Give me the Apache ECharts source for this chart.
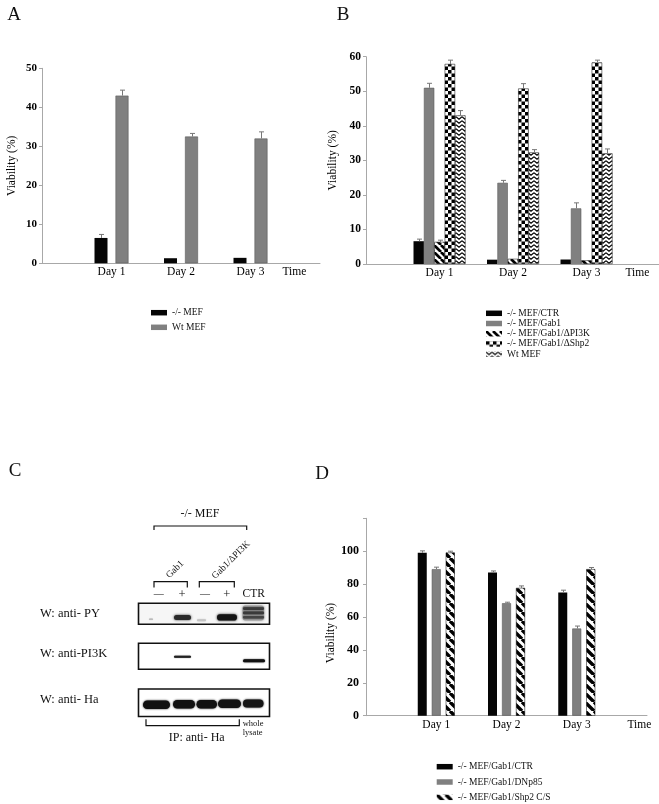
<!DOCTYPE html>
<html><head><meta charset="utf-8">
<script src="https://cdn.jsdelivr.net/npm/echarts@6/dist/echarts.min.js"></script>
<style>html,body{margin:0;padding:0;background:#fff}#c{width:659px;height:804px}</style>
</head><body><div id="c"></div>
<script>
// ---------- data ----------
const days = ['Day 1', 'Day 2', 'Day 3'];
const timeLabel = 'Time';
const yName = 'Viability (%)';

// Panel A
const aNames = ['-/- MEF', 'Wt MEF'];
const aKO = [6.5, 1.3, 1.4];
const aWT = [43.0, 32.5, 32.0];
const aKOErr = [7.4, null, null];
const aWTErr = [44.4, 33.3, 33.7];

// Panel B
const bNames = ['-/- MEF/CTR', '-/- MEF/Gab1', '-/- MEF/Gab1/ΔPI3K', '-/- MEF/Gab1/ΔShp2', 'Wt MEF '];
const bCTR = [6.6, 1.25, 1.3];
const bGab1 = [51.0, 23.5, 16.1];
const bDPI3K = [6.4, 1.5, 1.05];
const bDShp2 = [57.9, 50.8, 58.3];
const bWT = [43.0, 32.3, 32.0];
const bCTRErr = [7.2, null, null];
const bGab1Err = [52.3, 24.2, 17.7];
const bDPI3KErr = [6.9, null, null];
const bDShp2Err = [59.0, 52.2, 59.0];
const bWTErr = [44.4, 33.1, 33.3];

// Panel D
const dNames = ['-/- MEF/Gab1/CTR', '-/- MEF/Gab1/DNp85', '-/- MEF/Gab1/Shp2 C/S'];
const dCTR = [99.0, 87.1, 74.9];
const dDNp85 = [89.1, 68.4, 53.0];
const dShp2CS = [99.2, 77.7, 89.1];
const dCTRErr = [100.2, 88.0, 76.3];
const dDNp85Err = [90.3, 69.0, 54.5];
const dShp2CSErr = [100.0, 78.9, 90.1];

// ---------- helpers ----------
const F = '"Liberation Serif","Times New Roman","DejaVu Serif",serif';
const cats = ['', ...days, ''];
const pad = a => ['-', ...a, '-'];

function mk(w, h, draw) {
  const c = document.createElement('canvas'); c.width = w; c.height = h;
  const x = c.getContext('2d'); x.fillStyle = '#fff'; x.fillRect(0, 0, w, h);
  x.fillStyle = '#000'; x.strokeStyle = '#000';
  draw(x, w, h);
  return { image: c, repeat: 'repeat' };
}
function diag(s, lw) {
  return mk(s, s, (x, w, h) => {
    x.lineWidth = lw; x.beginPath();
    for (let k = -1; k <= 1; k++) { x.moveTo(k * w, 0); x.lineTo(k * w + w, h); }
    x.stroke();
  });
}
const diagB = diag(7, 2.7);
const diagD = diag(9, 3.4);
const checkB = mk(7, 7, (x) => { x.fillRect(0, 0, 3.5, 3.5); x.fillRect(3.5, 3.5, 3.5, 3.5); });
const waveB = mk(6, 4, (x) => {
  x.lineWidth = 1.1; x.beginPath(); x.moveTo(0, 0.8); x.lineTo(3, 3.2); x.lineTo(6, 0.8); x.stroke();
});

function bars(names, arrs, colors, gi, w, gap) {
  return arrs.map((a, i) => ({
    type: 'bar', name: names[i], xAxisIndex: gi, yAxisIndex: gi, data: pad(a),
    barWidth: w, barGap: (gap / w * 100) + '%', silent: true,
    itemStyle: {
      color: colors[i],
      borderColor: colors[i] === '#808080' ? '#5a5a5a' : '#000',
      borderWidth: colors[i] === '#808080' ? 0.6 : (typeof colors[i] === 'string' ? 0 : 0.5)
    }
  }));
}
function errSeries(gi, vals, errs, w, gap) {
  const n = vals.length, data = [];
  vals.forEach((arr, s) => arr.forEach((v, i) => {
    if (errs[s][i] != null) data.push([i + 1, s, v, errs[s][i]]);
  }));
  return {
    type: 'custom', xAxisIndex: gi, yAxisIndex: gi, z: 5, silent: true,
    encode: { x: 0, y: [2, 3] }, data,
    renderItem(params, api) {
      const c = api.value(0), s = api.value(1);
      const p0 = api.coord([c, api.value(2)]), p1 = api.coord([c, api.value(3)]);
      const gw = n * w + (n - 1) * gap;
      const x = Math.round(p0[0] - gw / 2 + s * (w + gap) + w / 2) + 0.5;
      const st = { stroke: '#777', lineWidth: 1 };
      return { type: 'group', children: [
        { type: 'line', shape: { x1: x, y1: p0[1], x2: x, y2: p1[1] }, style: st },
        { type: 'line', shape: { x1: x - 2.5, y1: p1[1], x2: x + 2.5, y2: p1[1] }, style: st }
      ] };
    }
  };
}
function xAx(gi, nameGap) {
  return {
    type: 'category', gridIndex: gi, data: cats, boundaryGap: false,
    axisLine: { lineStyle: { color: '#a8a8a8', width: 1 } }, axisTick: { show: false },
    axisLabel: { interval: 0, margin: 3, color: '#000', fontFamily: F, fontSize: 11.5 },
    splitLine: { show: false },
    name: timeLabel, nameLocation: 'end', nameGap,
    nameTextStyle: { color: '#000', fontFamily: F, fontSize: 11.5, verticalAlign: 'top', align: 'left', padding: [3, 0, 0, 0] }
  };
}
function yAx(gi, max, interval, nameGap, margin, fs, namePad, hideTop) {
  return {
    type: 'value', gridIndex: gi, min: 0, max, interval,
    axisLine: { show: true, lineStyle: { color: '#a8a8a8' } },
    axisTick: { show: true, length: 3, lineStyle: { color: '#a8a8a8' } },
    splitLine: { show: false },
    axisLabel: { margin, color: '#000', fontFamily: F, fontSize: fs, fontWeight: 'bold',
      formatter: v => (hideTop && v === max) ? '' : String(v) },
    name: yName, nameLocation: 'middle', nameGap,
    nameTextStyle: { color: '#000', fontFamily: F, fontSize: 11.5, padding: namePad }
  };
}
function legend(left, top, data, gap) {
  return {
    left, top, orient: 'vertical', padding: 0, itemWidth: 16, itemHeight: 5.5, itemGap: gap,
    icon: 'rect', selectedMode: false, data,
    itemStyle: { borderWidth: 0 },
    textStyle: { fontFamily: F, fontSize: 9.5, lineHeight: 10, color: '#111' }
  };
}

// ---------- panel C (blot figure drawn as graphics) ----------
const ink = '#111';
const T = (text, x, y, size, align, rot) => ({
  type: 'text', x, y, rotation: rot || 0, z: 10,
  style: { text, fontFamily: F, fontSize: size, fill: ink, align: align || 'center', verticalAlign: 'middle' }
});
const PL = pts => ({ type: 'polyline', z: 10, shape: { points: pts }, style: { stroke: ink, lineWidth: 1.2, fill: null } });
const BOX = (y, h, fill) => ({ type: 'rect', z: 10, shape: { x: 138.5, y, width: 131, height: h }, style: { fill: fill || '#fff', stroke: ink, lineWidth: 1.6 } });
const BAND = (x, y, w, h, fill, blur) => ({ type: 'rect', z: 11, shape: { x, y, width: w, height: h, r: h / 2 }, style: { fill, shadowBlur: blur, shadowColor: fill } });

const graphic = [
  T('A', 14, 15, 19), T('B', 343, 15, 19), T('C', 15, 471, 19), T('D', 322, 474, 19),
  T('-/- MEF', 200, 514, 12),
  PL([[154, 530], [154, 526], [246.7, 526], [246.7, 530]]),
  T('Gab1', 175, 569.5, 9.5, 'center', Math.PI / 4),
  T('Gab1/ΔPI3K', 231, 560, 9.5, 'center', Math.PI / 4),
  PL([[154, 587.5], [154, 581.7], [187.3, 581.7], [187.3, 587.5]]),
  PL([[199.3, 587.5], [199.3, 581.7], [234.3, 581.7], [234.3, 587.5]]),
  T('—', 158.8, 594.3, 10), T('+', 182, 594.3, 12.5), T('—', 205, 594.3, 10), T('+', 226.7, 594.3, 12.5),
  T('CTR', 253.8, 594.3, 11.5),
  T('W: anti- PY', 40, 614, 12.5, 'left'),
  T('W: anti-PI3K', 40, 653.3, 12.5, 'left'),
  T('W: anti- Ha', 40, 699.3, 12.5, 'left'),
  BOX(603.3, 21, '#f6f6f6'), BOX(643.3, 26), BOX(689, 27.5),
  // PY row
  BAND(149, 618.5, 4, 1.5, '#bbb', 1),
  BAND(174, 615, 17, 5, '#2a2a2a', 2.5),
  BAND(197, 619.3, 9, 2, '#c4c4c4', 1.5),
  BAND(217, 614.3, 20, 6.2, '#141414', 2.5),
  { type: 'rect', z: 11, shape: { x: 242.5, y: 605.5, width: 21.5, height: 15, r: 3 }, style: { fill: '#9a9a9a', shadowBlur: 3, shadowColor: '#9a9a9a' } },
  BAND(243, 607.3, 21, 2.6, '#3a3a3a', 1.5),
  BAND(243, 611.6, 21, 2.6, '#3a3a3a', 1.5),
  BAND(243, 616, 21, 2.6, '#444', 1.5),
  // PI3K row
  BAND(174, 655.8, 17, 2, '#222', 1),
  BAND(243, 659.3, 22, 3, '#111', 1.5),
  // Ha row
  BAND(143, 700.5, 27, 8.5, '#111', 2),
  BAND(173, 700, 22, 8.5, '#111', 2),
  BAND(196.5, 700, 20.5, 8.5, '#111', 2),
  BAND(218, 699.5, 23, 8.5, '#111', 2),
  BAND(243, 699.5, 20.5, 8, '#151515', 2),
  PL([[146, 719.3], [146, 725.7], [239.3, 725.7], [239.3, 719.3]]),
  T('whole', 242.7, 724, 8.5, 'left'), T('lysate', 242.7, 733, 8.5, 'left'),
  T('IP: anti- Ha', 196.7, 738.3, 12)
];

// ---------- option ----------
const option = {
  animation: false,
  backgroundColor: '#fff',
  grid: [
    { left: 42, top: 68.3, width: 278, height: 195, outerBoundsMode: 'none', containLabel: false },
    { left: 366, top: 56.7, width: 294, height: 207.3, outerBoundsMode: 'none', containLabel: false },
    { left: 366, top: 518.3, width: 281, height: 197.4, outerBoundsMode: 'none', containLabel: false }
  ],
  xAxis: [xAx(0, -37.6), xAx(1, -34.6), xAx(2, -19.6)],
  yAxis: [
    yAx(0, 50, 10, 24, 5, 11, [0, 0, 0, 0], false),
    yAx(1, 60, 10, 27, 5, 11.5, [0, 0, 0, 0], false),
    yAx(2, 120, 20, 23, 7, 12, [0, 32, 0, 0], true)
  ],
  legend: [
    legend(151, 307.7, aNames, 4.6),
    legend(486, 308.3, bNames, 0.2),
    legend(436.7, 761.7, dNames, 5.3)
  ],
  graphic,
  series: [
    ...bars(aNames, [aKO, aWT], ['#050505', '#808080'], 0, 13, 8),
    errSeries(0, [aKO, aWT], [aKOErr, aWTErr], 13, 8),
    ...bars(bNames, [bCTR, bGab1, bDPI3K, bDShp2, bWT], ['#050505', '#808080', diagB, checkB, waveB], 1, 10.4, 0),
    errSeries(1, [bCTR, bGab1, bDPI3K, bDShp2, bWT], [bCTRErr, bGab1Err, bDPI3KErr, bDShp2Err, bWTErr], 10.4, 0),
    ...bars(dNames, [dCTR, dDNp85, dShp2CS], ['#050505', '#808080', diagD], 2, 9, 5),
    errSeries(2, [dCTR, dDNp85, dShp2CS], [dCTRErr, dDNp85Err, dShp2CSErr], 9, 5)
  ]
};
const chart = echarts.init(document.getElementById('c'), null, { renderer: 'canvas' });
chart.setOption(option);
</script>
</body></html>
